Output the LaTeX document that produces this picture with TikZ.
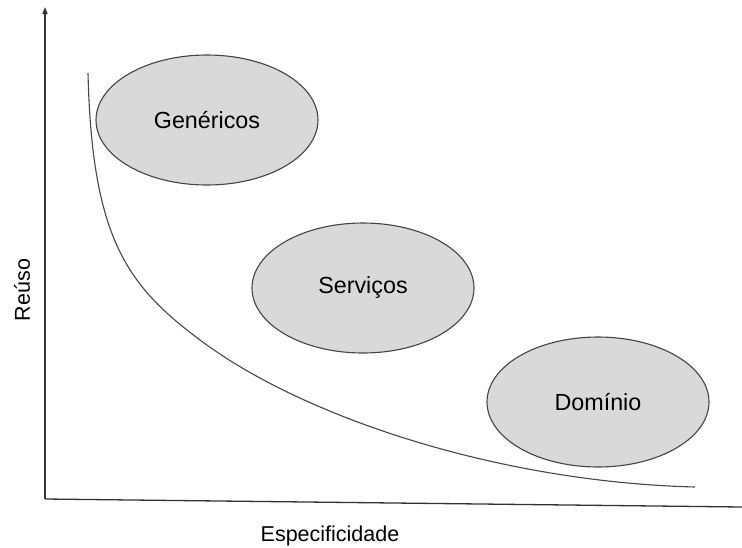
\documentclass[tikz,border=0pt]{standalone}
\usepackage{fontspec}
\setmainfont{Liberation Sans}
\usetikzlibrary{shapes.geometric,arrows.meta}
\definecolor{blobfill}{HTML}{D9D9D9}
\definecolor{blobline}{HTML}{444444}
\definecolor{axisline}{HTML}{333333}
\tikzset{
  blob/.style={ellipse, draw=blobline, fill=blobfill, line width=1.1pt,
    minimum width=222pt, minimum height=130pt, inner sep=0pt,
    font=\fontsize{23.3}{27}\selectfont},
  axislabel/.style={font=\fontsize{21.5}{26}\selectfont, inner sep=0pt},
  axisstroke/.style={draw=axisline, line width=1.3pt},
  trend/.style={draw=axisline!90, line width=1.1pt}
}
\begin{document}
\begin{tikzpicture}[x=1pt,y=-1pt]
\useasboundingbox (0,0) rectangle (742,547);
% axes
\coordinate (origin) at (45,499);
\coordinate (ytop) at (45,7);
\coordinate (xend) at (742,507);
\draw[axisstroke, -{Triangle[length=7pt,width=5pt]}] (origin) -- (ytop);
\draw[axisstroke] (origin) -- (xend);
% ellipses
\node[blob] (gen) at (207,120) {Genéricos};
\node[blob] (serv) at (363,288) {Serviços};
\node[blob] (dom) at (598,402) {Domínio};
% trend curve
\coordinate (cstart) at (88,73);
\coordinate (cmid) at (200,340);
\coordinate (cend) at (695,487);
\draw[trend] (cstart) .. controls (92,240) and (128,286) .. (cmid)
  .. controls (304,418) and (500,482) .. (cend);
% labels
\node[axislabel] (xlab) at (330,536) {Especificidade};
\node[axislabel, rotate=90] (ylab) at (22,290) {Reúso};
\end{tikzpicture}
\end{document}
